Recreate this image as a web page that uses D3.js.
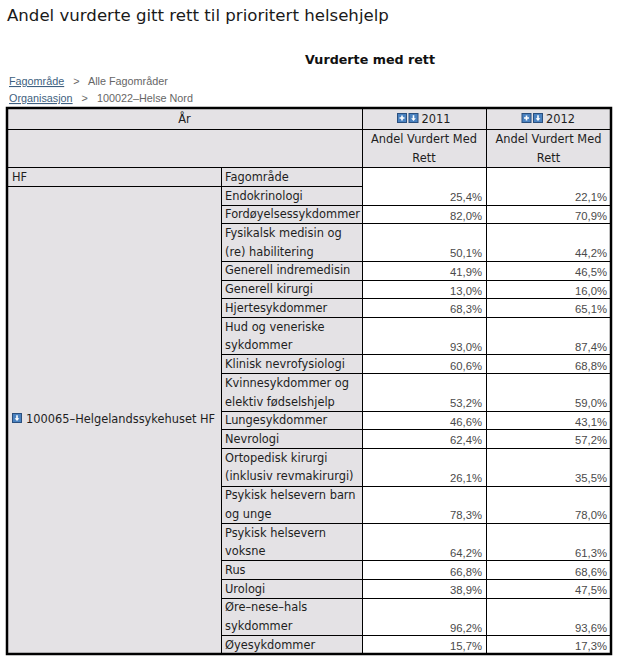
<!DOCTYPE html>
<html><head><meta charset="utf-8">
<script src="https://cdnjs.cloudflare.com/ajax/libs/d3/7.8.5/d3.min.js"></script>
<style>body{margin:0;background:#fff;overflow:hidden}</style>
</head><body>
<script>
// ---------- data ----------
const title = "Andel vurderte gitt rett til prioritert helsehjelp";
const subtitle = "Vurderte med rett";
const crumbLinks = ["Fagområde", "Organisasjon"];
const crumbValues = ["Alle Fagområder", "100022–Helse Nord"];
const yearDim = "År";
const years = ["2011", "2012"];
const measureLines = ["Andel Vurdert Med", "Rett"];
const rowDim = "HF";
const colDim = "Fagområde";
const hfName = "100065–Helgelandssykehuset HF";
const categories = [
  "Endokrinologi",
  "Fordøyelsessykdommer",
  "Fysikalsk medisin og\n(re) habilitering",
  "Generell indremedisin",
  "Generell kirurgi",
  "Hjertesykdommer",
  "Hud og veneriske\nsykdommer",
  "Klinisk nevrofysiologi",
  "Kvinnesykdommer og\nelektiv fødselshjelp",
  "Lungesykdommer",
  "Nevrologi",
  "Ortopedisk kirurgi\n(inklusiv revmakirurgi)",
  "Psykisk helsevern barn\nog unge",
  "Psykisk helsevern\nvoksne",
  "Rus",
  "Urologi",
  "Øre–nese–hals\nsykdommer",
  "Øyesykdommer"
];
const values2011 = [25.4, 82.0, 50.1, 41.9, 13.0, 68.3, 93.0, 60.6, 53.2, 46.6, 62.4, 26.1, 78.3, 64.2, 66.8, 38.9, 96.2, 15.7];
const values2012 = [22.1, 70.9, 44.2, 46.5, 16.0, 65.1, 87.4, 68.8, 59.0, 43.1, 57.2, 35.5, 78.0, 61.3, 68.6, 47.5, 93.6, 17.3];

// ---------- layout ----------
const W = 617, H = 661;
const colEdges = [7, 221, 362, 486, 611];
const tableTop = 108, hdr1 = 129, hdr2 = 167, hdr3 = 186, tableBottom = 654;
const GRAY = "#e4e2e5";
const LABEL_FONT = "'DejaVu Sans', Verdana, sans-serif";
const NUM_FONT = "'Liberation Sans', Arial, sans-serif";

const loc = d3.formatLocale({decimal: ",", thousands: " ", grouping: [3], currency: ["", ""]});
const fmt = v => loc.format(".1f")(v) + "%";

const rows = categories.map((c, i) => ({
  lines: c.split("\n"), v: [values2011[i], values2012[i]]
}));
let acc = 0;
rows.forEach(r => { r.start = acc; acc += r.lines.length; r.end = acc; });
const y = d3.scaleLinear().domain([0, acc]).range([hdr3, tableBottom]);
const colX = d3.scaleOrdinal().domain(years).range([colEdges[2], colEdges[3]]);
const colW = d3.scaleOrdinal().domain(years).range([colEdges[3] - colEdges[2], colEdges[4] - colEdges[3]]);

const svg = d3.select("body").append("svg").attr("width", W).attr("height", H)
  .style("display", "block");

// title
svg.append("text").attr("x", 7).attr("y", 21).text(title)
  .attr("font-family", LABEL_FONT).attr("font-size", 16.6).attr("fill", "#1a1a1a");
svg.append("text").attr("x", 370).attr("y", 64).attr("text-anchor", "middle").text(subtitle)
  .attr("font-family", LABEL_FONT).attr("font-size", 12.7).attr("font-weight", "bold").attr("fill", "#111");

// breadcrumbs
crumbLinks.forEach((lnk, i) => {
  const by = 85 + i * 17;
  const t = svg.append("text").attr("x", 9).attr("y", by)
    .attr("font-family", NUM_FONT).attr("font-size", 10.8);
  t.append("tspan").text(lnk).attr("fill", "#3e5f80").attr("text-decoration", "underline");
  t.append("tspan").text("   >   " + crumbValues[i]).attr("fill", "#666")
    .style("white-space", "pre");
});

const g = svg.append("g").attr("shape-rendering", "crispEdges");
function cell(x0, y0, x1, y1, fill) {
  g.append("rect").attr("x", x0 + 0.5).attr("y", y0 + 0.5)
    .attr("width", x1 - x0).attr("height", y1 - y0)
    .attr("fill", fill).attr("stroke", "#000").attr("stroke-width", 1);
}
// header cells
cell(colEdges[0], tableTop, colEdges[2], hdr1, GRAY);
cell(colEdges[0], hdr1, colEdges[2], hdr2, GRAY);
years.forEach(yr => {
  cell(colX(yr), tableTop, colX(yr) + colW(yr), hdr1, GRAY);
  cell(colX(yr), hdr1, colX(yr) + colW(yr), hdr2, GRAY);
});
cell(colEdges[0], hdr2, colEdges[1], hdr3, GRAY);
cell(colEdges[1], hdr2, colEdges[2], hdr3, GRAY);
cell(colEdges[0], hdr3, colEdges[1], tableBottom, GRAY);
rows.forEach((r, i) => {
  cell(colEdges[1], y(r.start), colEdges[2], y(r.end), GRAY);
  years.forEach(yr => {
    const top = i === 0 ? hdr2 : y(r.start);
    cell(colX(yr), top, colX(yr) + colW(yr), y(r.end), "#fff");
  });
});
// outer border
svg.append("rect").attr("x", colEdges[0]).attr("y", tableTop)
  .attr("width", colEdges[4] - colEdges[0]).attr("height", tableBottom - tableTop)
  .attr("fill", "none").attr("stroke", "#000").attr("stroke-width", 2.5);

const txt = svg.append("g").attr("font-family", LABEL_FONT).attr("font-size", 11.4).attr("fill", "#1e1e1e");

// icons
function icon(x, yy, kind) {
  const ig = svg.append("g").attr("transform", `translate(${x},${yy})`);
  ig.append("rect").attr("x", 0.5).attr("y", 0.5).attr("width", 9).attr("height", 9)
    .attr("fill", "#4a82c0").attr("stroke", "#2a4f7e").attr("stroke-width", 1);
  if (kind === "plus") {
    ig.append("path").attr("d", "M2.5,5H7.5M5,2.5V7.5").attr("stroke", "#fff").attr("stroke-width", 1.6);
  } else {
    ig.append("path").attr("d", "M5,2.2V6").attr("stroke", "#fff").attr("stroke-width", 1.6);
    ig.append("path").attr("d", "M2.6,5.2L5,8L7.4,5.2Z").attr("fill", "#fff");
  }
}

// header texts
txt.append("text").attr("x", (colEdges[0] + colEdges[2]) / 2).attr("y", 123)
  .attr("text-anchor", "middle").text(yearDim);
years.forEach(yr => {
  const cx = colX(yr) + colW(yr) / 2;
  icon(cx - 27, 113, "plus");
  icon(cx - 15.5, 113, "down");
  txt.append("text").attr("x", cx - 2.5).attr("y", 123).text(yr);
  measureLines.forEach((m, k) => {
    txt.append("text").attr("x", cx).attr("y", 143 + k * 18.7).attr("text-anchor", "middle").text(m);
  });
});
txt.append("text").attr("x", 12).attr("y", 181).text(rowDim);
txt.append("text").attr("x", colEdges[1] + 4).attr("y", 181).text(colDim);

// HF label
const midY = (hdr3 + tableBottom) / 2;
icon(12, midY - 7, "down");
txt.append("text").attr("x", 26).attr("y", midY + 2.5).text(hfName);

// category labels & values
rows.forEach(r => {
  r.lines.forEach((ln, k) => {
    txt.append("text").attr("x", colEdges[1] + 4).attr("y", y(r.start + k) + 13.6).text(ln);
  });
  years.forEach((yr, j) => {
    svg.append("text").attr("x", colX(yr) + colW(yr) - 4).attr("y", y(r.end) - 3.6)
      .attr("text-anchor", "end").attr("font-family", NUM_FONT).attr("font-size", 11.3)
      .attr("fill", "#4a4a4a").text(fmt(r.v[j]));
  });
});
</script>
</body></html>
